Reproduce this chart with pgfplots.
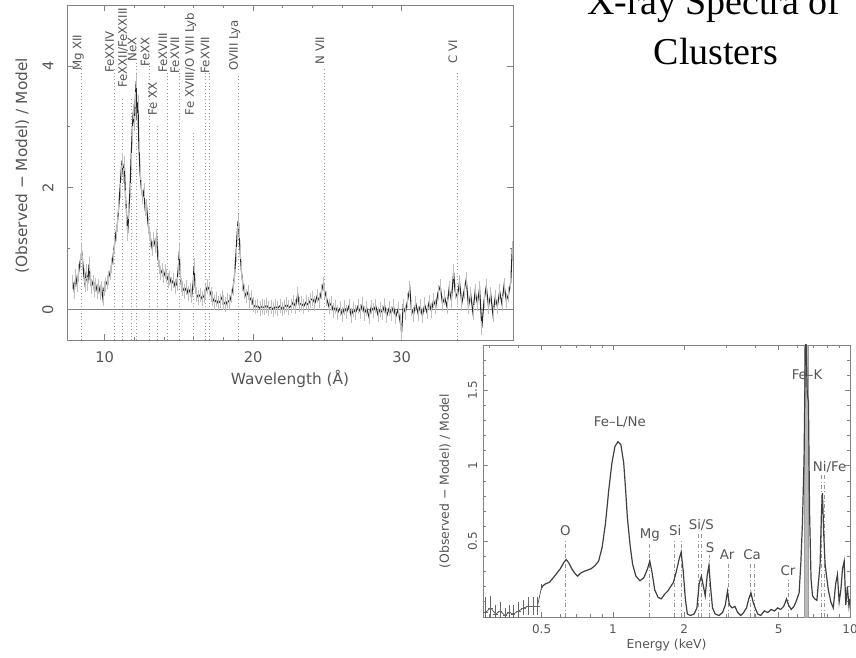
\documentclass[border=0pt]{standalone}
\usepackage{fontspec}
\setmainfont{DejaVu Sans}
\newfontfamily\titlefont{Liberation Serif}
\usepackage{pgfplots}
\pgfplotsset{compat=1.18}

\definecolor{frame}{RGB}{130,130,130}
\definecolor{inktext}{RGB}{85,85,85}
\definecolor{marker}{RGB}{150,150,150}

\pgfplotsset{
  spec/.style={
    scale only axis, clip mode=individual,
    axis line style={frame, line width=0.7pt},
    tick style={frame, line width=0.6pt},
    tick align=inside,
    unbounded coords=jump,
    /pgf/number format/assume math mode=true,
    ticklabel style={text=inktext},
    label style={text=inktext},
    axis background/.style={fill=white},
  },
}
\tikzset{
  linelab/.style={rotate=90, anchor=base east, inner sep=0.5pt, text=inktext,
    font=\fontsize{8.8}{9}\selectfont},
  elab/.style={anchor=center, inner sep=0.5pt, text=inktext,
    font=\fontsize{10}{11}\selectfont},
}

\begin{document}
\begin{tikzpicture}

% ---------------- wavelength residuals (RGS) ----------------
\begin{axis}[spec,
  at={(50.25pt,237.75pt)}, anchor=south west,
  width=334.5pt, height=251.25pt,
  xmin=7.46, xmax=37.5, ymin=-0.5, ymax=5,
  xtick={10,20,30}, minor x tick num=4,
  ytick={0,2,4}, minor y tick num=1,
  major tick length=4.5pt, minor tick length=2.5pt,
  ticklabel style={font=\fontsize{11}{13}\selectfont},
  xticklabel style={yshift=-5pt},
  yticklabel style={rotate=90, anchor=south, inner ysep=10pt},
  xlabel={Wavelength (Å)},
  ylabel={(Observed − Model) / Model},
  label style={font=\fontsize{11.5}{13}\selectfont},
  xlabel style={at={(axis description cs:0.5,-0.1154)}, anchor=center},
  ylabel style={at={(axis description cs:-0.1,0.52)}, anchor=center},
]

% line identifications
\addplot[marker, dotted, line width=0.5pt] coordinates {
  (8.42,-0.5) (8.42,4.0) (8.42,nan)
  (10.62,-0.5) (10.62,3.95) (10.62,nan)
  (11.17,-0.5) (11.17,3.45) (11.17,nan)
  (11.77,-0.5) (11.77,3.45) (11.77,nan)
  (12.13,-0.5) (12.13,4.15) (12.13,nan)
  (13.0,-0.5) (13.0,4.05) (13.0,nan)
  (13.52,-0.5) (13.52,3.05) (13.52,nan)
  (14.2,-0.5) (14.2,3.9) (14.2,nan)
  (15.01,-0.5) (15.01,3.95) (15.01,nan)
  (16.0,-0.5) (16.0,2.9) (16.0,nan)
  (16.78,-0.5) (16.78,3.9) (16.78,nan)
  (17.05,-0.5) (17.05,3.9) (17.05,nan)
  (18.97,-0.5) (18.97,3.85) (18.97,nan)
  (24.78,-0.5) (24.78,3.95) (24.78,nan)
  (33.74,-0.5) (33.74,3.9)
};

% zero level
\addplot[frame, line width=0.6pt] coordinates {(7.46,0) (37.5,0)};

% residuals
\addplot[black!85, line width=0.8pt, mark=none,
  error bars/.cd, y dir=both, y fixed=0.12, error mark=none,
  error bar style={gray!50, line width=0.5pt}] coordinates {
  (7.85,0.45) (7.95,0.30) (8.05,0.55) (8.15,0.40) (8.25,0.62) (8.35,0.80)
  (8.45,0.95) (8.52,0.78) (8.60,0.55) (8.68,0.40) (8.75,0.62) (8.85,0.42)
  (8.95,0.75) (9.02,0.50) (9.10,0.38) (9.20,0.45) (9.30,0.33) (9.40,0.40)
  (9.50,0.30) (9.60,0.38) (9.70,0.28) (9.80,0.35) (9.88,0.18) (9.95,0.35)
  (10.05,0.40) (10.15,0.45) (10.25,0.52) (10.35,0.60) (10.45,0.72) (10.55,0.85)
  (10.65,1.05) (10.75,1.25) (10.85,1.40) (10.95,1.70) (11.02,1.95) (11.10,2.25)
  (11.17,2.45) (11.25,2.20) (11.32,2.40) (11.40,1.85) (11.48,1.55) (11.55,1.25)
  (11.62,1.60) (11.70,1.95) (11.77,2.45) (11.85,2.90) (11.92,3.25) (12.00,3.05)
  (12.06,3.45) (12.12,3.75) (12.18,3.10) (12.24,3.40) (12.30,2.70) (12.38,2.25)
  (12.46,2.00) (12.55,1.85) (12.64,1.95) (12.72,1.65) (12.82,1.70) (12.92,1.40)
  (13.00,1.25) (13.10,1.15) (13.20,1.00) (13.30,1.15) (13.40,1.05) (13.50,1.20)
  (13.58,0.85) (13.68,0.70) (13.78,0.60) (13.88,0.65) (13.98,0.55) (14.08,0.62)
  (14.18,0.55) (14.28,0.48) (14.38,0.52) (14.50,0.42) (14.62,0.48) (14.74,0.38)
  (14.86,0.42) (14.96,0.70) (15.02,0.95) (15.08,0.60) (15.16,0.40) (15.26,0.35)
  (15.38,0.30) (15.50,0.36) (15.62,0.26) (15.74,0.32) (15.86,0.22) (15.96,0.45)
  (16.02,0.72) (16.08,0.40) (16.18,0.25) (16.30,0.20) (16.42,0.24) (16.55,0.18)
  (16.68,0.22) (16.80,0.30) (16.92,0.38) (17.04,0.33) (17.15,0.25) (17.28,0.18)
  (17.40,0.12) (17.52,0.16) (17.65,0.10) (17.78,0.14) (17.90,0.20) (18.02,0.12)
  (18.15,0.08) (18.28,0.15) (18.40,0.12) (18.52,0.22) (18.64,0.35) (18.74,0.55)
  (18.84,0.90) (18.92,1.25) (18.98,1.45) (19.04,1.30) (19.12,0.95) (19.20,0.65)
  (19.30,0.42) (19.40,0.30) (19.52,0.22) (19.64,0.28) (19.76,0.15) (19.88,0.20)
  (20.00,0.08) (20.15,0.04) (20.30,0.06) (20.45,0.02) (20.60,0.05) (20.75,0.03)
  (20.90,0.07) (21.05,0.02) (21.20,0.04) (21.35,0.00) (21.50,0.05) (21.65,0.02)
  (21.80,0.06) (21.95,0.01) (22.10,0.04) (22.25,0.08) (22.40,0.03) (22.55,0.06)
  (22.70,0.12) (22.85,0.05) (23.00,0.25) (23.10,0.08) (23.25,0.10) (23.40,0.05)
  (23.55,0.12) (23.70,0.08) (23.85,0.15) (24.00,0.18) (24.15,0.10) (24.30,0.22)
  (24.45,0.15) (24.60,0.30) (24.72,0.42) (24.82,0.30) (24.95,0.18) (25.10,0.05)
  (25.25,0.10) (25.40,-0.02) (25.55,0.04) (25.70,-0.05) (25.85,0.02) (26.00,-0.08)
  (26.15,0.03) (26.30,-0.04) (26.45,0.06) (26.60,-0.10) (26.75,0.00) (26.90,-0.05)
  (27.05,0.05) (27.20,-0.03) (27.35,0.08) (27.50,-0.06) (27.65,0.02) (27.80,-0.12)
  (27.95,0.04) (28.10,-0.02) (28.25,0.06) (28.40,-0.08) (28.55,0.00) (28.70,-0.05)
  (28.85,0.07) (29.00,-0.10) (29.15,0.02) (29.30,-0.06) (29.45,0.05) (29.60,-0.12)
  (29.75,0.00) (29.90,-0.20) (30.00,-0.38) (30.10,0.05) (30.25,-0.05) (30.40,0.15)
  (30.55,0.35) (30.65,0.02) (30.80,-0.08) (30.95,0.10) (31.10,-0.06) (31.25,0.05)
  (31.40,-0.10) (31.55,0.08) (31.70,-0.04) (31.85,0.12) (32.00,-0.02) (32.15,0.15)
  (32.30,0.05) (32.45,0.28) (32.60,0.38) (32.75,0.10) (32.90,0.20) (33.05,0.05)
  (33.20,0.35) (33.35,0.15) (33.50,0.62) (33.60,0.30) (33.75,0.20) (33.90,0.45)
  (34.05,0.10) (34.20,0.30) (34.35,0.50) (34.50,0.05) (34.65,0.25) (34.80,-0.05)
  (34.95,0.30) (35.10,0.10) (35.25,0.35) (35.40,-0.30) (35.55,0.15) (35.70,0.38)
  (35.85,0.05) (36.00,0.25) (36.15,-0.08) (36.30,0.20) (36.45,0.05) (36.60,0.30)
  (36.75,0.10) (36.90,0.40) (37.05,0.15) (37.20,0.25) (37.35,0.45) (37.45,1.00)
};

\node[linelab] at (axis cs:8.42,4.53) {Mg XII};
\node[linelab] at (axis cs:10.62,4.58) {FeXXIV};
\node[linelab] at (axis cs:11.5,4.97) {FeXXII/FeXXIII};
\node[linelab] at (axis cs:12.13,4.49) {NeX};
\node[linelab] at (axis cs:13.0,4.49) {FeXX};
\node[linelab] at (axis cs:13.52,3.74) {Fe XX};
\node[linelab] at (axis cs:14.2,4.56) {FeXVIII};
\node[linelab] at (axis cs:15.01,4.49) {FeXVII};
\node[linelab] at (axis cs:16.0,4.89) {Fe XVIII/O VIII Lyb};
\node[linelab] at (axis cs:17.05,4.49) {FeXVII};
\node[linelab] at (axis cs:18.97,4.77) {OVIII Lya};
\node[linelab] at (axis cs:24.78,4.49) {N VII};
\node[linelab] at (axis cs:33.74,4.44) {C VI};
\end{axis}

% ---------------- energy residuals (EPIC) ----------------
\begin{axis}[spec,
  at={(362.25pt,30pt)}, anchor=south west,
  width=275.25pt, height=204pt,
  xmode=log, xmin=0.283, xmax=10, ymin=0, ymax=1.8,
  xtick={0.5,1,2,5,10}, xticklabels={0.5,1,2,5,10},
  minor xtick={0.3,0.4,0.6,0.7,0.8,0.9,3,4,6,7,8,9},
  ytick={0.5,1,1.5}, yticklabels={0.5,1,1.5},
  minor ytick={0.1,0.2,0.3,0.4,0.6,0.7,0.8,0.9,1.1,1.2,1.3,1.4,1.6,1.7},
  major tick length=4pt, minor tick length=2.5pt,
  ticklabel style={font=\fontsize{9}{10}\selectfont},
  xticklabel style={yshift=-2pt},
  yticklabel style={rotate=90, anchor=south, inner ysep=4.2pt},
  xlabel={Energy (keV)},
  ylabel={(Observed − Model) / Model},
  label style={font=\fontsize{9.3}{10}\selectfont},
  xlabel style={at={(axis description cs:0.5,-0.103)}, anchor=center},
  ylabel style={at={(axis description cs:-0.1035,0.5)}, anchor=center},
]

% Fe-K band
\addplot[fill=gray!55, draw=gray!75] coordinates {
  (6.40,0) (6.40,1.8) (6.66,1.8) (6.66,0)} --cycle;

% line identifications
\addplot[marker, dash dot, line width=0.5pt] coordinates {
  (0.63,0) (0.63,0.52) (0.63,nan)
  (1.43,0) (1.43,0.49) (1.43,nan)
  (1.81,0) (1.81,0.52) (1.81,nan)
  (1.95,0) (1.95,0.52) (1.95,nan)
  (2.30,0) (2.30,0.55) (2.30,nan)
  (2.37,0) (2.37,0.55) (2.37,nan)
  (2.54,0) (2.54,0.41) (2.54,nan)
  (3.07,0) (3.07,0.35) (3.07,nan)
  (3.78,0) (3.78,0.35) (3.78,nan)
  (3.93,0) (3.93,0.35) (3.93,nan)
  (5.47,0) (5.47,0.26) (5.47,nan)
  (7.60,0) (7.60,0.94) (7.60,nan)
  (7.80,0) (7.80,0.94)
};

% low-energy bins with errors
\addplot[black!70, line width=0.5pt, mark=none,
  error bars/.cd, x dir=both, x explicit, y dir=both, y explicit,
  error mark=none, error bar style={black!60, line width=0.4pt}] coordinates {
  (0.290,0.03) +- (0.007,0.10)
  (0.305,0.06) +- (0.007,0.08)
  (0.320,0.02) +- (0.007,0.06)
  (0.335,0.04) +- (0.007,0.06)
  (0.350,0.01) +- (0.007,0.05)
  (0.365,0.03) +- (0.007,0.05)
  (0.380,0.02) +- (0.008,0.06)
  (0.400,0.04) +- (0.010,0.06)
  (0.420,0.06) +- (0.010,0.05)
  (0.440,0.07) +- (0.010,0.06)
  (0.460,0.07) +- (0.010,0.06)
  (0.480,0.07) +- (0.010,0.06)
  (0.500,0.20) +- (0.005,0.02)
};

% residuals
\addplot[black!75, line width=0.9pt, mark=none] coordinates {
  (0.50,0.20) (0.52,0.22) (0.54,0.23) (0.56,0.26) (0.58,0.29) (0.60,0.32)
  (0.62,0.36) (0.635,0.38) (0.65,0.36) (0.67,0.32) (0.69,0.29) (0.71,0.27)
  (0.73,0.29) (0.75,0.30) (0.78,0.31) (0.81,0.32) (0.84,0.34) (0.87,0.37)
  (0.90,0.46) (0.93,0.62) (0.96,0.84) (0.99,1.02) (1.02,1.13) (1.05,1.16)
  (1.08,1.14) (1.11,1.02) (1.13,0.85) (1.15,0.66) (1.18,0.48) (1.21,0.35)
  (1.25,0.27) (1.30,0.24) (1.35,0.26) (1.40,0.32) (1.43,0.37) (1.46,0.30)
  (1.50,0.18) (1.55,0.13) (1.60,0.12) (1.65,0.15) (1.70,0.17) (1.75,0.20)
  (1.80,0.23) (1.85,0.30) (1.90,0.38) (1.94,0.43) (1.98,0.30) (2.02,0.12)
  (2.06,0.02) (2.12,0.01) (2.20,0.02) (2.26,0.06) (2.31,0.22) (2.36,0.27)
  (2.41,0.20) (2.45,0.14) (2.50,0.28) (2.54,0.34) (2.58,0.20) (2.63,0.06)
  (2.70,0.02) (2.80,0.01) (2.90,0.03) (2.98,0.08) (3.04,0.17) (3.10,0.08)
  (3.18,0.06) (3.27,0.07) (3.36,0.03) (3.46,0.01) (3.56,0.03) (3.66,0.06)
  (3.74,0.12) (3.82,0.16) (3.90,0.10) (3.98,0.06) (4.08,0.02) (4.20,0.01)
  (4.35,0.04) (4.50,0.03) (4.65,0.05) (4.80,0.04) (4.95,0.06) (5.10,0.05)
  (5.25,0.07) (5.40,0.12) (5.50,0.08) (5.65,0.05) (5.80,0.07) (5.95,0.11)
  (6.10,0.16) (6.20,0.35) (6.30,0.62) (6.40,1.05) (6.50,1.95) (6.60,1.48)
  (6.68,1.42) (6.75,0.70) (6.85,0.25) (6.95,0.14) (7.10,0.12) (7.25,0.11)
  (7.35,0.22) (7.48,0.35) (7.58,0.70) (7.65,0.82) (7.75,0.55) (7.85,0.35)
  (7.95,0.28) (8.10,0.18) (8.30,0.10) (8.50,0.06) (8.70,0.22) (8.85,0.28)
  (9.00,0.10) (9.15,0.18) (9.30,0.32) (9.45,0.37) (9.60,0.08) (9.75,0.20)
  (9.90,0.07) (10.0,0.12)
};

\node[elab] at (axis cs:0.63,0.57) {O};
\node[elab] at (axis cs:1.07,1.29) {Fe–L/Ne};
\node[elab] at (axis cs:1.43,0.54) {Mg};
\node[elab] at (axis cs:1.83,0.57) {Si};
\node[elab] at (axis cs:2.36,0.61) {Si/S};
\node[elab] at (axis cs:2.57,0.46) {S};
\node[elab] at (axis cs:3.03,0.41) {Ar};
\node[elab] at (axis cs:3.86,0.41) {Ca};
\node[elab] at (axis cs:5.47,0.31) {Cr};
\node[elab] at (axis cs:6.59,1.60) {Fe–K};
\node[elab] at (axis cs:8.2,0.99) {Ni/Fe};
\end{axis}

% title, partly cut off at the top edge as in the slide
\node[anchor=base, font=\titlefont\fontsize{28.5}{30}\selectfont]
  at (535.5pt,481.5pt) {X-ray Spectra of};
\node[anchor=base, font=\titlefont\fontsize{28.5}{30}\selectfont]
  at (537pt,444pt) {Clusters};

\pgfresetboundingbox
\useasboundingbox (0,0) rectangle (642pt,492.75pt);
\end{tikzpicture}
\end{document}
